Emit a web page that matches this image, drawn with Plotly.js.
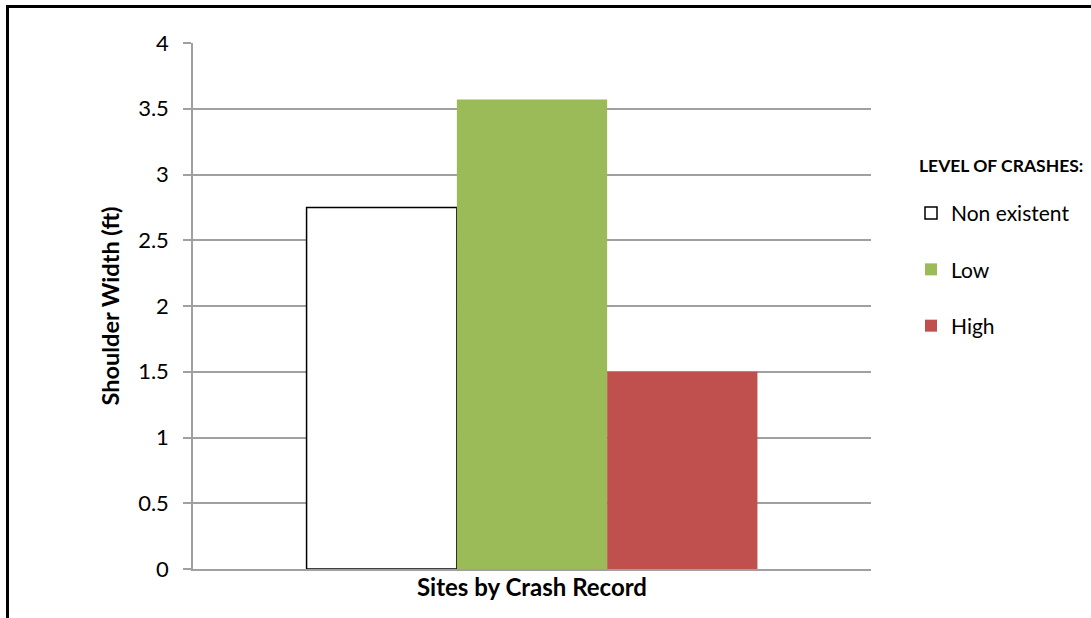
<!DOCTYPE html>
<html>
<head>
<meta charset="utf-8">
<script src="https://cdn.plot.ly/plotly-3.0.1.min.js"></script>
<style>
  html, body { margin: 0; padding: 0; background: #fff; }
  #wrap { position: relative; width: 1091px; height: 618px; }
  #chart { width: 1091px; height: 618px; }
  #frame { position: absolute; left: 6px; top: 5px; width: 1085px; height: 613px;
           border-top: 3px solid #000; border-left: 3px solid #000; box-sizing: border-box; pointer-events: none; }
</style>
</head>
<body>
<div id="wrap">
  <div id="chart"></div>
  <div id="frame"></div>
</div>
<script>
const category = ['Sites by Crash Record'];
const seriesNames = ['Non existent', 'Low', 'High'];
const seriesValues = [[2.75], [3.57], [1.5]];
const seriesColors = ['#FFFFFF', '#9BBB59', '#C0504D'];
const lineColors = ['#000000', '#9BBB59', '#C0504D'];
const lineWidths = [1.5, 0, 0];
const yTicks = [0, 0.5, 1, 1.5, 2, 2.5, 3, 3.5, 4];
const yTickText = ['0', '0.5', '1', '1.5', '2', '2.5', '3', '3.5', '4'];
const legendTitle = 'LEVEL OF CRASHES:';

const FONT = 'Lato, "Open Sans", sans-serif';

const traces = seriesNames.map((name, i) => ({
  type: 'bar',
  name: name,
  x: category,
  y: seriesValues[i],
  legendgroup: 'g' + i,
  marker: { color: seriesColors[i], line: { color: lineColors[i], width: lineWidths[i] } },
  hoverinfo: 'name+y'
}));

const layout = {
  width: 1091,
  height: 618,
  paper_bgcolor: '#ffffff',
  plot_bgcolor: '#ffffff',
  margin: { l: 193, r: 220, t: 43, b: 49, pad: 0 },
  font: { family: FONT, size: 22, color: '#000' },
  barmode: 'group',
  bargap: 0.335,
  bargroupgap: 0,
  showlegend: true,
  legend: {
    x: 1.059, xanchor: 'left',
    y: 0.715, yanchor: 'top',
    traceorder: 'grouped',
    tracegroupgap: 26,
    font: { family: FONT, size: 21, color: '#000' },
    itemclick: false, itemdoubleclick: false
  },
  annotations: [{
    text: '<b>' + legendTitle + '</b>',
    xref: 'paper', yref: 'paper',
    x: 1.068, xanchor: 'left',
    y: 0.768, yanchor: 'middle',
    showarrow: false,
    font: { family: FONT, size: 17.5, color: '#000' }
  }],
  xaxis: {
    type: 'category',
    range: [-0.5, 0.5],
    showticklabels: false,
    ticks: '',
    showline: true, linecolor: '#A0A0A0', linewidth: 1.5,
    showgrid: false, zeroline: false,
    title: { text: '<b>Sites by Crash Record</b>', standoff: 9, font: { family: FONT, size: 24, color: '#000' } }
  },
  yaxis: {
    range: [0, 4],
    tickvals: yTicks,
    ticktext: yTickText,
    ticks: 'outside', ticklen: 8, tickcolor: '#A0A0A0', tickwidth: 1.5,
    showline: true, linecolor: '#A0A0A0', linewidth: 1.5,
    showgrid: true, gridcolor: '#A0A0A0', gridwidth: 1.5,
    zeroline: false,
    tickfont: { family: FONT, size: 22, color: '#000' },
    ticklabelstandoff: 10,
    title: { text: '<b>Shoulder Width (ft)</b>', standoff: 12, font: { family: FONT, size: 23.5, color: '#000' } }
  }
};

Plotly.newPlot('chart', traces, layout, { displayModeBar: false });
</script>
</body>
</html>
